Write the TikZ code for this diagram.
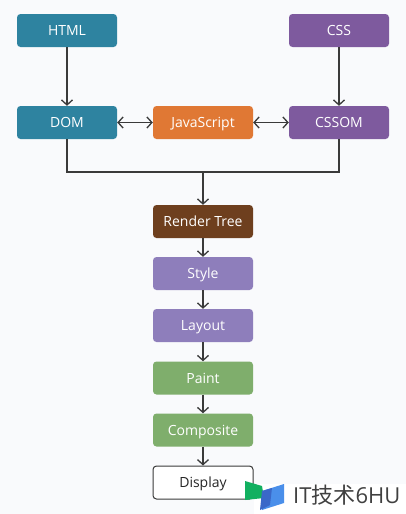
\documentclass[tikz,border=0pt]{standalone}
\usepackage{fontspec}
\setmainfont{Open Sans}
\newfontfamily\cjk{Noto Sans CJK SC}
\usetikzlibrary{arrows.meta}
\definecolor{bgc}{HTML}{F9FAFC}
\definecolor{tealc}{HTML}{2E83A0}
\definecolor{purpc}{HTML}{7E5A9E}
\definecolor{orangec}{HTML}{E07834}
\definecolor{brownc}{HTML}{6E3F1E}
\definecolor{lavc}{HTML}{8E7EBB}
\definecolor{greenc}{HTML}{7FAE6C}
\definecolor{linec}{HTML}{3A3A3A}
\definecolor{wmgreen}{HTML}{12B060}
\definecolor{wmblue}{HTML}{4A8FEA}
\definecolor{wmdark}{HTML}{3A68C8}
\tikzset{
  box/.style={rectangle,rounded corners=3.5pt,minimum width=100pt,minimum height=33pt,inner sep=0pt,text=white,text height=10pt,text depth=0pt,font=\fontsize{14}{16}\selectfont},
  tipbarb/.tip={Straight Barb[length=5pt,width=11pt,line width=1.3pt]},
  conn/.style={draw=linec,line width=1.3pt,-tipbarb},
  biconn/.style={draw=linec,line width=1.5pt,tipbarb-tipbarb},
  plain/.style={draw=linec,line width=1.3pt}
}
\begin{document}
\begin{tikzpicture}[x=1pt,y=-1pt]
\useasboundingbox (0,0) rectangle (406,514);
\fill[bgc] (0,0) rectangle (406,514);
\node[box,fill=tealc] (html) at (67,30.5) {HTML};
\node[box,fill=purpc] (css) at (339,30.5) {CSS};
\node[box,fill=tealc] (dom) at (67,122.5) {DOM};
\node[box,fill=orangec] (js) at (203,122.5) {JavaScript};
\node[box,fill=purpc] (cssom) at (339,122.5) {CSSOM};
\node[box,fill=brownc] (rt) at (203,221.5) {Render Tree};
\node[box,fill=lavc] (style) at (203,273.5) {Style};
\node[box,fill=lavc] (layout) at (203,325.5) {Layout};
\node[box,fill=greenc] (paint) at (203,378) {Paint};
\node[box,fill=greenc] (comp) at (203,430) {Composite};
\node[box,fill=white,draw=linec,line width=1pt,text=black!85] (disp) at (203,482.5) {Display};
\coordinate (mid) at (203,172);
\draw[conn] (html) -- (dom);
\draw[conn] (css) -- (cssom);
\draw[biconn] (dom) -- (js);
\draw[biconn] (js) -- (cssom);
\draw[plain] (dom.south) |- (mid);
\draw[plain] (cssom.south) |- (mid);
\draw[conn] (mid) -- (rt);
\draw[conn] (rt) -- (style);
\draw[conn] (style) -- (layout);
\draw[conn] (layout) -- (paint);
\draw[conn] (paint) -- (comp);
\draw[conn] (comp) -- (disp);
% watermark
\fill[white] (254,484) rectangle (406,514);
\fill[wmgreen] (245,481) -- (262,486) -- (264,498) -- (245,500) -- cycle;
\fill[wmblue] (262,491) -- (284,484) -- (284,503) -- (262,510) -- cycle;
\fill[wmdark] (262,491) -- (272,488) -- (270,505) -- (260,510) -- cycle;
\node[inner sep=0pt,anchor=west,text=black!75,font=\fontsize{22}{24}\selectfont] (wm) at (293,495) {IT{\cjk 技术}6HU};
\end{tikzpicture}
\end{document}
